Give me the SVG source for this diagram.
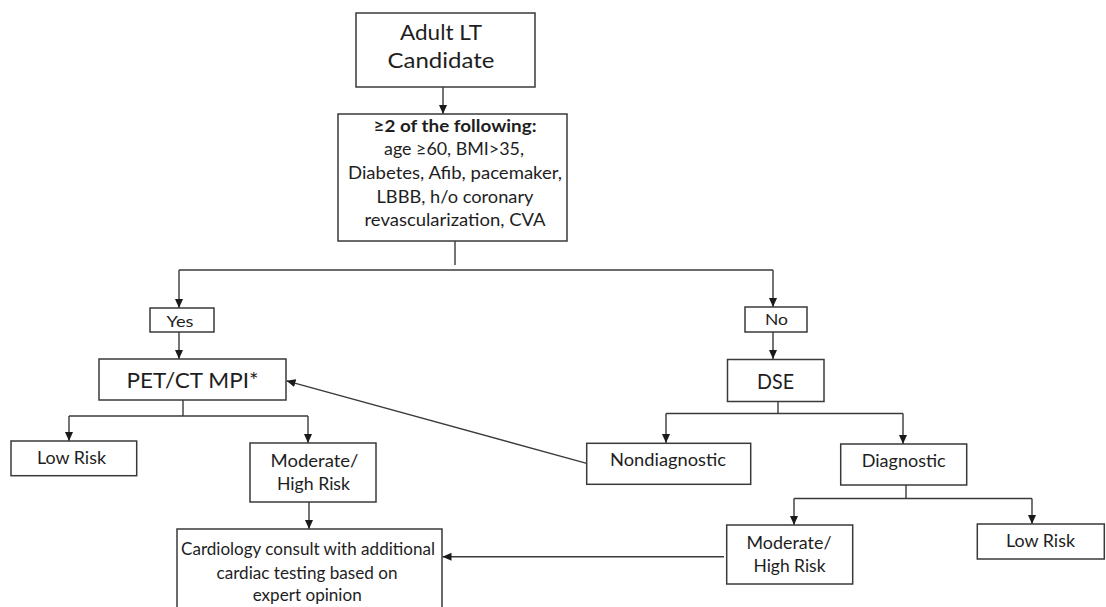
<svg xmlns="http://www.w3.org/2000/svg" width="1106" height="607" viewBox="0 0 1106 607">
<defs>
<marker id="ah" markerUnits="userSpaceOnUse" markerWidth="10" markerHeight="10" refX="9" refY="5" orient="auto">
<path d="M0,1 L9,5 L0,9 Z" fill="#1a1a1a"/>
</marker>
<style>
.box{fill:#fff;stroke:#3a3a3a;stroke-width:1.5}
.ln{fill:none;stroke:#3a3a3a;stroke-width:1.4}
.ar{fill:none;stroke:#3a3a3a;stroke-width:1.4;marker-end:url(#ah)}
text{font-family:Lato,"Liberation Sans",sans-serif;fill:#1e1e1e;text-anchor:middle}
.t22{font-size:21px}
.t17{font-size:17px}
.t16{font-size:16.5px}
.t15{font-size:15px}
.b{font-weight:bold}
</style>
</defs>
<rect width="1106" height="607" fill="#fff"/>
<g id="connectors">
<line class="ar" x1="443" y1="87" x2="443" y2="114"/>
<line class="ln" x1="455" y1="241" x2="455" y2="265"/>
<polyline class="ln" points="179,270 773,270"/>
<line class="ar" x1="179" y1="270" x2="179" y2="308"/>
<line class="ar" x1="773" y1="270" x2="773" y2="307"/>
<line class="ar" x1="179" y1="332" x2="179" y2="359"/>
<line class="ar" x1="773" y1="332" x2="773" y2="359"/>
<line class="ln" x1="183" y1="400" x2="183" y2="416"/>
<polyline class="ln" points="69,416 308,416"/>
<line class="ar" x1="69" y1="416" x2="69" y2="441"/>
<line class="ar" x1="308" y1="416" x2="308" y2="443"/>
<line class="ln" x1="778" y1="402" x2="778" y2="413.5"/>
<polyline class="ln" points="666,413.5 903,413.5"/>
<line class="ar" x1="666" y1="413.5" x2="666" y2="443"/>
<line class="ar" x1="903" y1="413.5" x2="903" y2="444"/>
<line class="ar" x1="586.7" y1="463.3" x2="286.5" y2="380.8"/>
<line class="ar" x1="309" y1="502" x2="309" y2="529"/>
<line class="ln" x1="906" y1="485" x2="906" y2="498.5"/>
<polyline class="ln" points="794,498.5 1032,498.5"/>
<line class="ar" x1="794" y1="498.5" x2="794" y2="525"/>
<line class="ar" x1="1032" y1="498.5" x2="1032" y2="524"/>
<line class="ar" x1="724" y1="556.7" x2="442.5" y2="556.7"/>
</g>
<g id="adult">
<rect class="box" x="356" y="13" width="179" height="74"/>
<text class="t22" x="441" y="40" textLength="82" lengthAdjust="spacingAndGlyphs">Adult LT</text>
<text class="t22" x="441" y="68" textLength="107" lengthAdjust="spacingAndGlyphs">Candidate</text>
</g>
<g id="criteria">
<rect class="box" x="338" y="114" width="229" height="127"/>
<text class="t17 b" x="455" y="132" textLength="163" lengthAdjust="spacingAndGlyphs">≥2 of the following:</text>
<text class="t17" x="454" y="155" textLength="140" lengthAdjust="spacingAndGlyphs">age ≥60, BMI&gt;35,</text>
<text class="t17" x="455" y="179" textLength="214" lengthAdjust="spacingAndGlyphs">Diabetes, Afib, pacemaker,</text>
<text class="t17" x="455" y="203" textLength="157" lengthAdjust="spacingAndGlyphs">LBBB, h/o coronary</text>
<text class="t17" x="455" y="226" textLength="181" lengthAdjust="spacingAndGlyphs">revascularization, CVA</text>
</g>
<g id="yes">
<rect class="box" x="150" y="308" width="64" height="24"/>
<text class="t15" x="180" y="326.5" textLength="27" lengthAdjust="spacingAndGlyphs">Yes</text>
</g>
<g id="no">
<rect class="box" x="745" y="307" width="62" height="25"/>
<text class="t15" x="776.5" y="325" textLength="23" lengthAdjust="spacingAndGlyphs">No</text>
</g>
<g id="pet">
<rect class="box" x="99" y="359" width="187" height="41"/>
<text class="t22" x="192.5" y="387.5" textLength="132" lengthAdjust="spacingAndGlyphs">PET/CT MPI*</text>
</g>
<g id="dse">
<rect class="box" x="727.5" y="359.5" width="96.5" height="42"/>
<text class="t22" x="775.5" y="389" textLength="37" lengthAdjust="spacingAndGlyphs">DSE</text>
</g>
<g id="lowrisk-left">
<rect class="box" x="11" y="441" width="125.7" height="34.7"/>
<text class="t16" x="71.5" y="463.5" textLength="69" lengthAdjust="spacingAndGlyphs">Low Risk</text>
</g>
<g id="modhigh-left">
<rect class="box" x="250" y="443" width="126" height="59"/>
<text class="t16" x="314.5" y="466.7" textLength="88" lengthAdjust="spacingAndGlyphs">Moderate/</text>
<text class="t16" x="313.5" y="490" textLength="73" lengthAdjust="spacingAndGlyphs">High Risk</text>
</g>
<g id="nondiagnostic">
<rect class="box" x="586.7" y="443.3" width="164" height="41"/>
<text class="t16" x="668" y="465.7" textLength="116" lengthAdjust="spacingAndGlyphs">Nondiagnostic</text>
</g>
<g id="diagnostic">
<rect class="box" x="840.7" y="444" width="126" height="41"/>
<text class="t16" x="903.7" y="466.7" textLength="84" lengthAdjust="spacingAndGlyphs">Diagnostic</text>
</g>
<g id="modhigh-right">
<rect class="box" x="726.7" y="525" width="126" height="59"/>
<text class="t16" x="789" y="549.3" textLength="85" lengthAdjust="spacingAndGlyphs">Moderate/</text>
<text class="t16" x="789.5" y="571.7" textLength="72" lengthAdjust="spacingAndGlyphs">High Risk</text>
</g>
<g id="lowrisk-right">
<rect class="box" x="977.3" y="524" width="127" height="35"/>
<text class="t16" x="1040.5" y="546.7" textLength="69" lengthAdjust="spacingAndGlyphs">Low Risk</text>
</g>
<g id="cardiology">
<rect class="box" x="177" y="529" width="265" height="90"/>
<text class="t16" x="308" y="555" textLength="254" lengthAdjust="spacingAndGlyphs">Cardiology consult with additional</text>
<text class="t16" x="307" y="579" textLength="181" lengthAdjust="spacingAndGlyphs">cardiac testing based on</text>
<text class="t16" x="307.2" y="601" textLength="109" lengthAdjust="spacingAndGlyphs">expert opinion</text>
</g>
</svg>
